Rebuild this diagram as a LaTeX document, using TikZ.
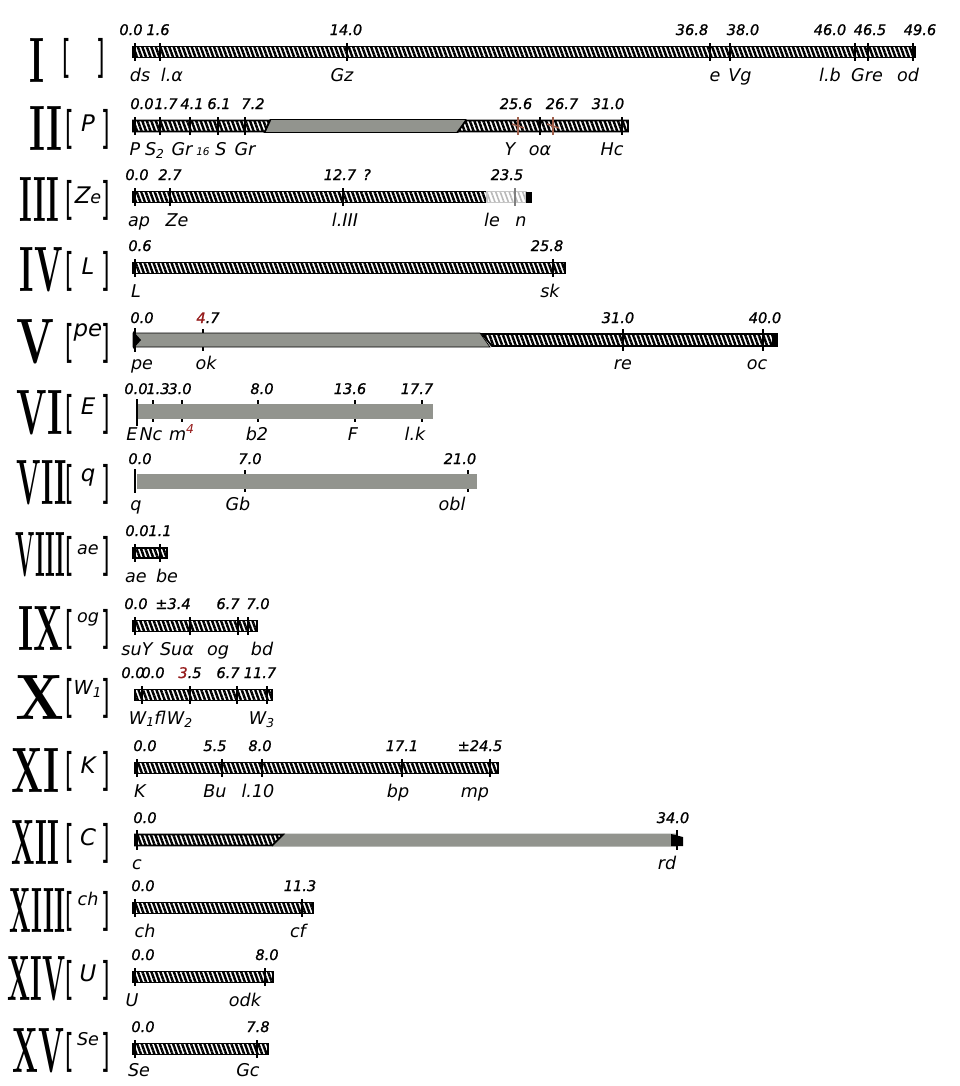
\documentclass[tikz,border=0pt]{standalone}
\usepackage{fontspec}
\usepackage{graphicx}
\usetikzlibrary{patterns.meta}
\newfontfamily\hand{DejaVu Sans}
\newfontfamily\numf{DejaVu Sans}[FakeBold=1]
\definecolor{barg}{RGB}{146,148,142}
\definecolor{dred}{RGB}{150,28,28}
\definecolor{rust}{RGB}{160,95,75}

% chromosome heading: Roman numeral, bracket pair, linkage-group symbol
\newcommand\lead[6]{%
  \node[rn] (rn#1) at (#2,2) {\resizebox{#3cm}{0.88cm}{\bfseries #4}};
  \node[brk] (bl#1) at (70,3) {\resizebox*{0.17cm}{0.8cm}{[}};
  \node[brk] (br#1) at (106,3) {\resizebox*{0.17cm}{0.8cm}{]}};
  \node[inb] (in#1) at (88,#5) {#6};
}

\begin{document}
\begin{tikzpicture}[x=0.02cm,y=-0.02cm,
  hbar/.style={draw=black, line width=1pt,
    pattern={Lines[angle=110,distance=2.4pt,line width=1.4pt]}, pattern color=black},
  fade/.style={draw=gray!45, line width=0.6pt,
    pattern={Lines[angle=110,distance=2.4pt,line width=0.9pt]}, pattern color=gray!55},
  gbar/.style={fill=barg},
  tk/.style={line width=0.8pt},
  num/.style={font=\numf\itshape\fontsize{8.3}{9}\selectfont, inner sep=0pt, anchor=base},
  lab/.style={font=\hand\itshape\fontsize{10}{11}\selectfont, inner sep=0pt, anchor=base},
  rn/.style={anchor=east, inner sep=0pt},
  brk/.style={inner sep=0pt, font=\hand},
  inb/.style={inner sep=0pt, font=\hand\itshape\fontsize{13}{14}\selectfont}]

\useasboundingbox (0,0) rectangle (960,1086);
\fill[white] (0,0) rectangle (960,1086);

% ---------------- I
\begin{scope}[shift={(0,52)}]
  \node[rn] (rn1) at (45,8) {\resizebox{0.30cm}{0.88cm}{\bfseries I}};
  \node[brk] (bl1) at (67,6) {\resizebox*{0.17cm}{0.8cm}{[}};
  \node[brk] (br1) at (101,6) {\resizebox*{0.17cm}{0.8cm}{]}};
  \draw[hbar] (133,-5.5) rectangle (915,5.5);
  \foreach \x in {135,160,347,710,730,855,868,913} \draw[tk] (\x,-9) -- (\x,9);
  \foreach \x/\t [count=\i] in {131/0.0,158/1.6,346/14.0,692/36.8,743/38.0,830/46.0,870/46.5,920/49.6}
    \node[num] (n1-\i) at (\x,-17) {\t};
  \foreach \x/\t [count=\i] in {140/ds,172/{l.α},342/Gz,715/e,740/Vg,830/{l.b},867/Gre,908/od}
    \node[lab] (l1-\i) at (\x,29) {\t};
\end{scope}

% ---------------- II
\begin{scope}[shift={(0,126)}]
  \lead{2}{63}{0.66}{II}{-3}{P}
  \draw[gbar] (270,-6.5) -- (466,-6.5) -- (458,6.5) -- (264,6.5) -- cycle;
  \draw[hbar] (133,-5.5) -- (270,-5.5) -- (265,5.5) -- (133,5.5) -- cycle;
  \draw[hbar] (466,-5.5) -- (628,-5.5) -- (628,5.5) -- (458,5.5) -- cycle;
  \foreach \x in {135,160,190,218,245,540,622} \draw[tk] (\x,-9) -- (\x,9);
  \foreach \x in {518,553} \draw[tk,rust] (\x,-9) -- (\x,9);
  \draw[rust, line width=0.8pt] (512,-2) -- (524,2) (547,-2) -- (559,2);
  \foreach \x/\t [count=\i] in {142/0.0,166/1.7,192/4.1,219/6.1,253/7.2,516/25.6,562/26.7,608/31.0}
    \node[num] (n2-\i) at (\x,-17) {\t};
  \foreach \x/\t [count=\i] in {135/P,155/{S\textsubscript{2}},182/Gr,203/{\fontsize{6}{7}\selectfont 16},221/S,245/Gr,510/Y,540/{oα},612/Hc}
    \node[lab] (l2-\i) at (\x,29) {\t};
\end{scope}

% ---------------- III
\begin{scope}[shift={(0,197)}]
  \lead{3}{60}{0.80}{III}{-2}{Z{\fontsize{10}{11}\selectfont e}}
  \draw[hbar] (133,-5.5) rectangle (487,5.5);
  \draw[fade] (487,-5.5) rectangle (526,5.5);
  \fill (526,-5.5) rectangle (532,5.5);
  \foreach \x in {135,170,343} \draw[tk] (\x,-9) -- (\x,9);
  \draw[tk,gray] (515,-9) -- (515,9);
  \foreach \x/\t [count=\i] in {137/0.0,170/2.7,340/12.7,367/?,507/23.5}
    \node[num] (n3-\i) at (\x,-17) {\t};
  \foreach \x/\t [count=\i] in {139/ap,177/Ze,345/{l.III},492/le,521/n}
    \node[lab] (l3-\i) at (\x,29) {\t};
\end{scope}

% ---------------- IV
\begin{scope}[shift={(0,268)}]
  \lead{4}{63}{0.86}{IV}{-2}{L}
  \draw[hbar] (133,-5.5) rectangle (565,5.5);
  \foreach \x in {135,553} \draw[tk] (\x,-9) -- (\x,9);
  \foreach \x/\t [count=\i] in {140/0.6,547/25.8}
    \node[num] (n4-\i) at (\x,-17) {\t};
  \foreach \x/\t [count=\i] in {136/L,550/sk}
    \node[lab] (l4-\i) at (\x,29) {\t};
\end{scope}

% ---------------- V
\begin{scope}[shift={(0,340)}]
  \lead{5}{55}{0.76}{V}{-8}{pe}
  \foreach \x in {203,623,763} \draw[tk] (\x,-11) -- (\x,11);
  \draw[gbar] (133,-7) -- (480,-7) -- (490,7) -- (133,7) -- cycle;
  \draw[hbar] (482,-6) -- (777,-6) -- (777,6) -- (492,6) -- cycle;
  \fill (133,-9) -- (141,0) -- (133,9) -- cycle;
  \fill (772,-6) rectangle (778,6);
  \draw[tk] (135,-12) -- (135,12);
  \foreach \x/\t [count=\i] in {142/0.0,208/{{\color{dred}4}.7},618/31.0,765/40.0}
    \node[num] (n5-\i) at (\x,-17) {\t};
  \foreach \x/\t [count=\i] in {142/pe,206/ok,623/re,757/oc}
    \node[lab] (l5-\i) at (\x,29) {\t};
\end{scope}

% ---------------- VI
\begin{scope}[shift={(0,411)}]
  \lead{6}{63}{0.92}{VI}{-5}{E}
  \draw[tk] (137,-12) -- (137,15);
  \foreach \x in {153,182,258,355,422} \draw[tk] (\x,-11) -- (\x,11);
  \fill[barg] (138,-7.5) rectangle (433,7.5);
  \foreach \x/\t [count=\i] in {136/0.0,158/1.3,180/3.0,262/8.0,350/13.6,417/17.7}
    \node[num] (n6-\i) at (\x,-17) {\t};
  \foreach \x/\t [count=\i] in {132/E,151/Nc,182/{m{\color{dred}\textsuperscript{4}}},257/b2,353/F,415/{l.k}}
    \node[lab] (l6-\i) at (\x,29) {\t};
\end{scope}

% ---------------- VII
\begin{scope}[shift={(0,481)}]
  \lead{7}{67}{1.00}{VII}{-4}{q}
  \draw[tk] (135,-12) -- (135,12);
  \foreach \x in {245,468} \draw[tk] (\x,-11) -- (\x,11);
  \fill[barg] (137,-7.5) rectangle (477,7.5);
  \foreach \x/\t [count=\i] in {140/0.0,250/7.0,460/21.0}
    \node[num] (n7-\i) at (\x,-17) {\t};
  \foreach \x/\t [count=\i] in {136/q,238/Gb,452/obl}
    \node[lab] (l7-\i) at (\x,29) {\t};
\end{scope}

% ---------------- VIII
\begin{scope}[shift={(0,553)}]
  \lead{8}{66}{1.00}{VIII}{-3}{\fontsize{10}{11}\selectfont ae}
  \draw[hbar] (133,-5) rectangle (167,5);
  \foreach \x in {135,160} \draw[tk] (\x,-9) -- (\x,9);
  \foreach \x/\t [count=\i] in {137/0.0,160/1.1}
    \node[num] (n8-\i) at (\x,-17) {\t};
  \foreach \x/\t [count=\i] in {136/ae,167/be}
    \node[lab] (l8-\i) at (\x,29) {\t};
\end{scope}

% ---------------- IX
\begin{scope}[shift={(0,626)}]
  \lead{9}{64}{0.90}{IX}{-7}{\fontsize{10}{11}\selectfont og}
  \draw[hbar] (133,-5.5) rectangle (257,5.5);
  \foreach \x in {135,190,238,248} \draw[tk] (\x,-9) -- (\x,9);
  \foreach \x/\t [count=\i] in {136/0.0,173/±3.4,228/6.7,258/7.0}
    \node[num] (n9-\i) at (\x,-17) {\t};
  \foreach \x/\t [count=\i] in {137/suY,177/{Suα},218/og,262/bd}
    \node[lab] (l9-\i) at (\x,29) {\t};
\end{scope}

% ---------------- X
\begin{scope}[shift={(0,695)}]
  \lead{10}{65}{0.98}{X}{-6}{\fontsize{11}{12}\selectfont W\textsubscript{1}}
  \draw[hbar] (135,-5.5) rectangle (272,5.5);
  \foreach \x in {142,190,237,267} \draw[tk] (\x,-9) -- (\x,9);
  \foreach \x/\t [count=\i] in {133/0.0,153/0.0,190/{{\color{dred}3}.5},228/6.7,260/11.7}
    \node[num] (n10-\i) at (\x,-17) {\t};
  \foreach \x/\t [count=\i] in {142/{W\textsubscript{1}},160/fl,180/{W\textsubscript{2}},262/{W\textsubscript{3}}}
    \node[lab] (l10-\i) at (\x,29) {\t};
\end{scope}

% ---------------- XI
\begin{scope}[shift={(0,768)}]
  \lead{11}{60}{0.96}{XI}{-3}{K}
  \draw[hbar] (135,-5.5) rectangle (498,5.5);
  \foreach \x in {137,222,262,402,490} \draw[tk] (\x,-9) -- (\x,9);
  \foreach \x/\t [count=\i] in {145/0.0,215/5.5,260/8.0,402/17.1,480/±24.5}
    \node[num] (n11-\i) at (\x,-17) {\t};
  \foreach \x/\t [count=\i] in {140/K,215/Bu,258/{l.10},398/bp,475/mp}
    \node[lab] (l11-\i) at (\x,29) {\t};
\end{scope}

% ---------------- XII
\begin{scope}[shift={(0,840)}]
  \lead{12}{60}{0.96}{XII}{-3}{C}
  \fill[barg] (283,-6.5) -- (677,-6.5) -- (677,6.5) -- (272,6.5) -- cycle;
  \draw[hbar] (135,-5.5) -- (283,-5.5) -- (272,5.5) -- (135,5.5) -- cycle;
  \fill (671,-6) -- (683,-3) -- (683,6) -- (671,6) -- cycle;
  \foreach \x in {137,677} \draw[tk] (\x,-10) -- (\x,10);
  \foreach \x/\t [count=\i] in {145/0.0,673/34.0}
    \node[num] (n12-\i) at (\x,-17) {\t};
  \foreach \x/\t [count=\i] in {137/c,667/rd}
    \node[lab] (l12-\i) at (\x,29) {\t};
\end{scope}

% ---------------- XIII
\begin{scope}[shift={(0,908)}]
  \lead{13}{66}{1.12}{XIII}{-9}{\fontsize{10}{11}\selectfont ch}
  \draw[hbar] (133,-5.5) rectangle (313,5.5);
  \foreach \x in {135,302} \draw[tk] (\x,-9) -- (\x,9);
  \foreach \x/\t [count=\i] in {143/0.0,300/11.3}
    \node[num] (n13-\i) at (\x,-17) {\t};
  \foreach \x/\t [count=\i] in {145/ch,298/cf}
    \node[lab] (l13-\i) at (\x,29) {\t};
\end{scope}

% ---------------- XIV
\begin{scope}[shift={(0,977)}]
  \lead{14}{66}{1.16}{XIV}{-4}{U}
  \draw[hbar] (133,-5.5) rectangle (273,5.5);
  \foreach \x in {135,265} \draw[tk] (\x,-9) -- (\x,9);
  \foreach \x/\t [count=\i] in {143/0.0,267/8.0}
    \node[num] (n14-\i) at (\x,-17) {\t};
  \foreach \x/\t [count=\i] in {132/U,245/odk}
    \node[lab] (l14-\i) at (\x,29) {\t};
\end{scope}

% ---------------- XV
\begin{scope}[shift={(0,1049)}]
  \lead{15}{65}{1.04}{XV}{-10}{\fontsize{10}{11}\selectfont Se}
  \draw[hbar] (133,-5.5) rectangle (268,5.5);
  \foreach \x in {135,257} \draw[tk] (\x,-9) -- (\x,9);
  \foreach \x/\t [count=\i] in {143/0.0,258/7.8}
    \node[num] (n15-\i) at (\x,-17) {\t};
  \foreach \x/\t [count=\i] in {139/Se,248/Gc}
    \node[lab] (l15-\i) at (\x,27) {\t};
\end{scope}

\end{tikzpicture}
\end{document}
